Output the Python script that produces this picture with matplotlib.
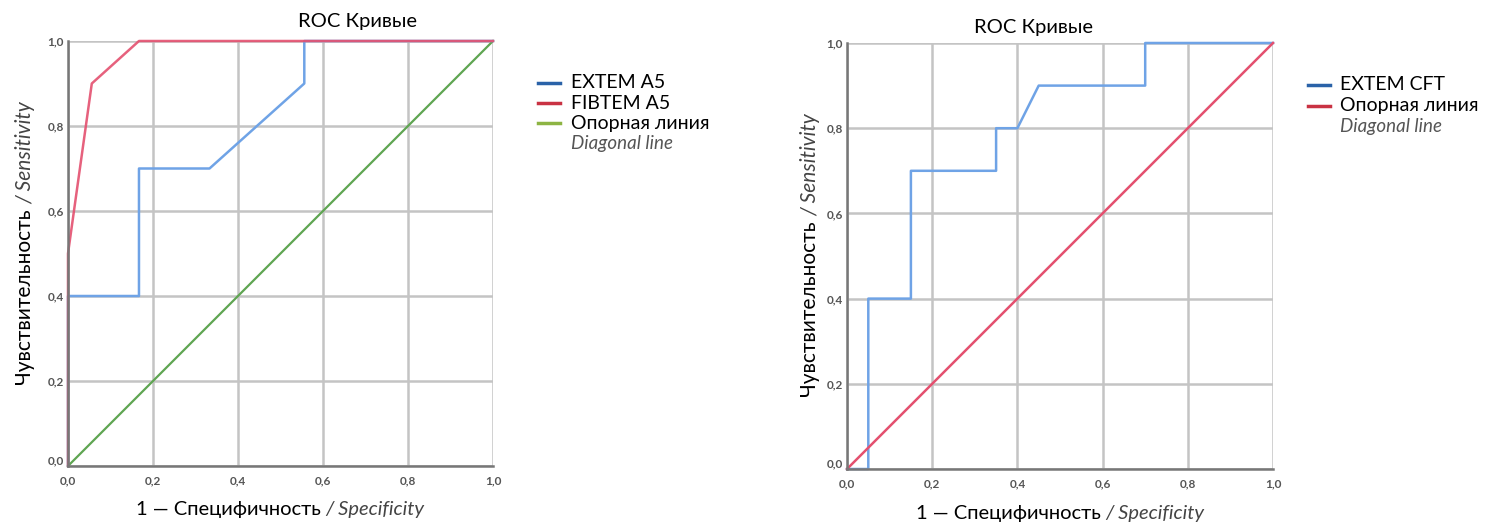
import matplotlib
matplotlib.use("Agg")
import matplotlib.pyplot as plt
from matplotlib.lines import Line2D

plt.rcParams['font.family'] = ['Lato', 'DejaVu Sans']

# ---- data ----
left_extem_fpr = [0.0, 0.0, 0.167, 0.167, 0.333, 0.556, 0.556, 1.0]
left_extem_tpr = [0.0, 0.4, 0.4, 0.7, 0.7, 0.9, 1.0, 1.0]
left_fibtem_fpr = [0.0, 0.0, 0.056, 0.167, 1.0]
left_fibtem_tpr = [0.0, 0.5, 0.9, 1.0, 1.0]
diag = [0.0, 1.0]

right_cft_fpr = [0.0, 0.05, 0.05, 0.15, 0.15, 0.35, 0.35, 0.40, 0.45, 0.70, 0.70, 1.0]
right_cft_tpr = [0.0, 0.0, 0.4, 0.4, 0.7, 0.7, 0.8, 0.8, 0.9, 0.9, 1.0, 1.0]

ticks = [0.0, 0.2, 0.4, 0.6, 0.8, 1.0]
tick_labels = ['0,0', '0,2', '0,4', '0,6', '0,8', '1,0']

title_text = 'ROC Кривые'
ylab_main, ylab_it = 'Чувствительность ', '/ Sensitivity'
xlab_main, xlab_it = '1 — Специфичность ', '/ Specificity'
left_legend = ['EXTEM A5', 'FIBTEM A5', 'Опорная линия']
right_legend = ['EXTEM CFT', 'Опорная линия']
legend_sub = 'Diagonal line'

W, H = 1503, 525
fig = plt.figure(figsize=(W / 100, H / 100), dpi=100)

def px_axes(x0, x1, y0, y1):
    return fig.add_axes([x0 / W, 1 - y1 / H, (x1 - x0) / W, (y1 - y0) / H])

axL = px_axes(68, 493, 41, 466)
axR = px_axes(847, 1273, 43, 469)

def style(ax):
    ax.set_xlim(0, 1)
    ax.set_ylim(0, 1)
    ax.set_xticks(ticks)
    ax.set_yticks(ticks)
    ax.set_xticklabels(tick_labels)
    ax.set_yticklabels(tick_labels)
    ax.grid(True, color='#c4c4c4', linewidth=1.8)
    ax.set_axisbelow(True)
    for s in ['top', 'right']:
        ax.spines[s].set_visible(False)
    for s in ['left', 'bottom']:
        ax.spines[s].set_color('#777777')
        ax.spines[s].set_linewidth(1.8)
    ax.tick_params(length=0, labelsize=8.5, labelcolor='#555555')
    ax.tick_params(axis='x', pad=7)
    ax.tick_params(axis='y', pad=3)
    for lab in ax.get_xticklabels() + ax.get_yticklabels():
        lab.set_fontweight('bold')
    ax.get_yticklabels()[0].set_va('bottom')

style(axL)
style(axR)

blue = '#6fa3e6'
red = '#e4506f'
green = '#5fa552'

axL.plot(diag, diag, color=green, lw=1.6, clip_on=False)
axL.plot(left_extem_fpr, left_extem_tpr, color=blue, lw=1.8, clip_on=False)
axL.plot(left_fibtem_fpr, left_fibtem_tpr, color=red, lw=1.8, clip_on=False, alpha=0.9)

axR.plot(right_cft_fpr, right_cft_tpr, color=blue, lw=1.8, clip_on=False)
axR.plot(diag, diag, color=red, lw=1.8, clip_on=False)

# titles
fig.text(358 / W, 1 - 22 / H, title_text, ha='center', va='center', fontsize=14.5)
fig.text(1033 / W, 1 - 27 / H, title_text, ha='center', va='center', fontsize=14.5)

# legends (manual)
def legend(x_line, x_text, y_rows, labels, colors, sub_y):
    for lab, col, y in zip(labels, colors, y_rows):
        fig.add_artist(Line2D([x_line / W, (x_line + 22) / W], [1 - y / H, 1 - y / H],
                              color=col, lw=2.5))
        fig.text(x_text / W, 1 - y / H, lab, ha='left', va='center', fontsize=14)
    fig.text(x_text / W, 1 - sub_y / H, legend_sub, ha='left', va='center',
             fontsize=13.5, style='italic', color='#555555')

legend(538, 571, [83, 103, 123], left_legend, ['#2a62a8', '#c93243', '#8db443'], 143)
legend(1308, 1340, [85, 106], right_legend, ['#2a62a8', '#c93243'], 127)

fig.canvas.draw()
rend = fig.canvas.get_renderer()

def xlabel(cx, cy):
    t1 = fig.text(0, 1 - cy / H, xlab_main, ha='left', va='center', fontsize=14.5)
    t2 = fig.text(0, 1 - cy / H, xlab_it, ha='left', va='center', fontsize=14.5,
                  style='italic', color='#444444')
    w1 = t1.get_window_extent(rend).width
    w2 = t2.get_window_extent(rend).width
    start = cx - (w1 + w2) / 2
    t1.set_x(start / W)
    t2.set_x((start + w1) / W)

def ylabel(cx, cy):
    t1 = fig.text(cx / W, 0, ylab_main, ha='center', va='bottom', rotation=90, fontsize=15)
    t2 = fig.text(cx / W, 0, ylab_it, ha='center', va='bottom', rotation=90, fontsize=15,
                  style='italic', color='#444444')
    h1 = t1.get_window_extent(rend).height
    h2 = t2.get_window_extent(rend).height
    start = (H - cy) - (h1 + h2) / 2
    t1.set_y(start / H)
    t2.set_y((start + h1) / H)

xlabel(280, 510)
xlabel(1060, 513)
ylabel(25, 243)
ylabel(810, 255)

fig.savefig('out.png', dpi=100, facecolor='white')
